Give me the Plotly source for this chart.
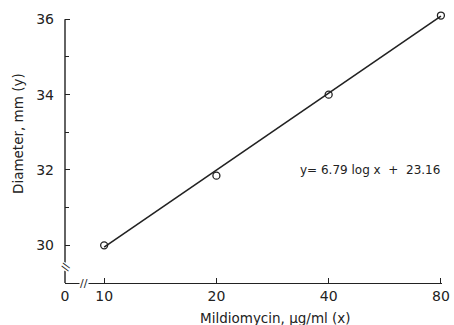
import numpy as np
import plotly.graph_objects as go

# Data
conc = [10, 20, 40, 80]            # Mildiomycin, ug/ml (x)
diam = [30.0, 31.85, 34.0, 36.1]   # Diameter, mm (y)
slope, intercept = 6.79, 23.16     # regression y = 6.79 log x + 23.16
fit_x = [10, 80]
fit_y = [slope * np.log10(v) + intercept for v in fit_x]

x_tickvals = [10 ** 0.895, 10, 20, 40, 80]
x_ticktext = ["0", "10", "20", "40", "80"]
y_tickvals = [30, 32, 34, 36]
y_axis_span = [29, 36]

FONT = "DejaVu Sans"
INK = "#222222"

fig = go.Figure()
fig.add_trace(go.Scatter(x=fit_x, y=fit_y, mode="lines", cliponaxis=False,
                         line=dict(color=INK, width=1.6), hoverinfo="skip"))
fig.add_trace(go.Scatter(x=conc, y=diam, mode="markers", cliponaxis=False,
                         marker=dict(symbol="circle-open", size=7,
                                     color=INK, line=dict(width=1.3))))

fig.update_layout(
    width=454, height=325,
    margin=dict(l=65, r=12, t=7.7, b=42),
    paper_bgcolor="white", plot_bgcolor="white",
    showlegend=False,
    font=dict(family=FONT, color=INK, size=13),
    xaxis=dict(type="log", range=[0.895, 1.906], automargin=False,
               tickvals=x_tickvals, ticktext=x_ticktext,
               ticks="inside", ticklen=5, tickcolor=INK, tickwidth=1.2,
               showline=True, linecolor=INK, linewidth=1.4,
               showgrid=False, zeroline=False,
               tickfont=dict(size=14, family=FONT)),
    yaxis=dict(range=[29, 36.3], tickvals=y_tickvals, automargin=False,
               ticks="inside", ticklen=5, tickcolor=INK, tickwidth=1.2,
               minor=dict(ticks="inside", ticklen=4, tickcolor=INK,
                          tickvals=[31, 33, 35], showgrid=False),
               showline=False,
               showgrid=False, zeroline=False,
               ticklabelstandoff=10,
               tickfont=dict(size=14, family=FONT)),
)

# y axis line ending at 36
fig.add_shape(type="line", xref="paper", yref="y", x0=0, x1=0,
              y0=y_axis_span[0], y1=y_axis_span[1],
              line=dict(color=INK, width=1.4))

# axis titles
fig.add_annotation(x=0.559, y=-0.127, xref="paper", yref="paper",
                   xanchor="center", yanchor="middle",
                   text="Mildiomycin, µg/ml (x)", showarrow=False,
                   font=dict(size=13.5, family=FONT, color=INK))
fig.add_annotation(x=-0.125, y=0.545, xref="paper", yref="paper",
                   xanchor="center", yanchor="middle",
                   text="Diameter, mm (y)", textangle=-90, showarrow=False,
                   font=dict(size=13.5, family=FONT, color=INK))

# equation annotation
fig.add_annotation(x=1.0, y=32.0, xref="paper", yref="y",
                   text="y= 6.79 log x  +  23.16", showarrow=False,
                   xanchor="right", yanchor="middle",
                   font=dict(size=12, family=FONT, color=INK))

# axis break marks
fig.add_annotation(x=0.05, y=0.0, xref="paper", yref="paper",
                   xanchor="center", yanchor="middle",
                   text="//", showarrow=False, bgcolor="white",
                   font=dict(size=11, family=FONT, color=INK), borderpad=0)
fig.add_annotation(x=0.0, y=29.42, xref="paper", yref="y",
                   xanchor="center", yanchor="middle",
                   text="//", textangle=-70, showarrow=False, bgcolor="white",
                   font=dict(size=10, family=FONT, color=INK), borderpad=0)

fig.write_html(
    "out.html",
    config={"displayModeBar": False},
    post_script="document.body.style.margin='0';"
                "document.body.style.overflow='hidden';",
)
